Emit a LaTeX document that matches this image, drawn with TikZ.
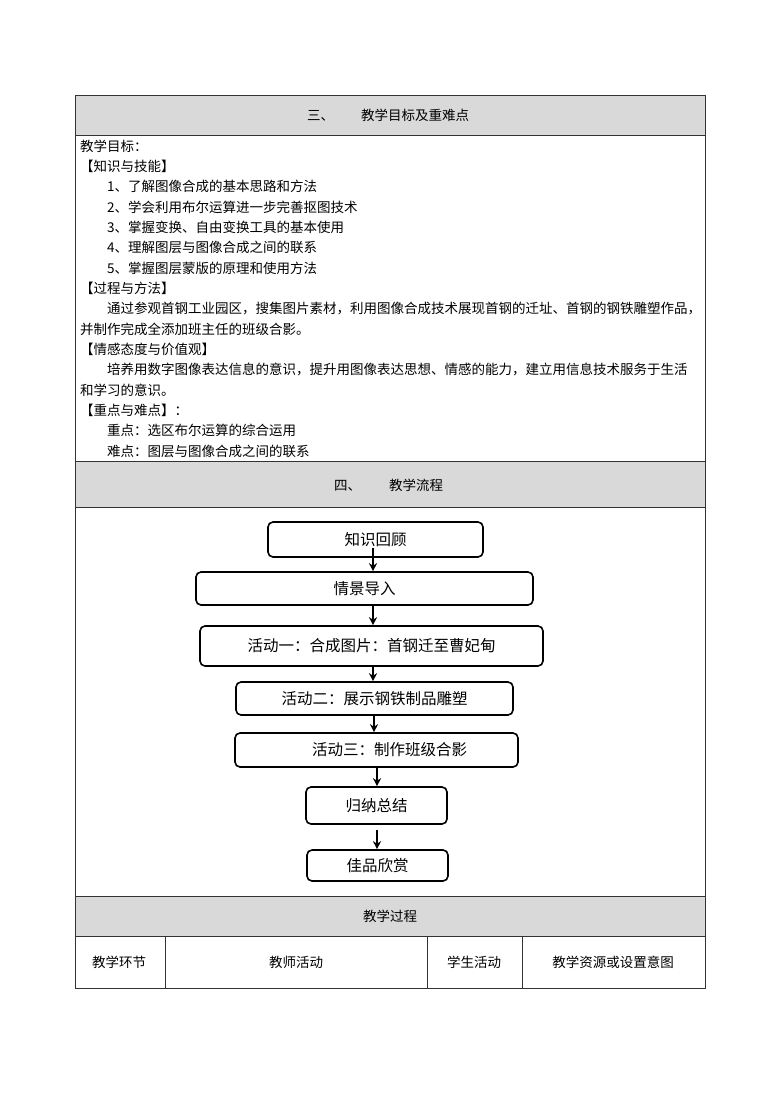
\documentclass[tikz,border=0pt]{standalone}
\usepackage{fontspec}
\setmainfont{Noto Sans CJK SC}
\usetikzlibrary{arrows.meta}
\XeTeXlinebreaklocale "zh"
\XeTeXlinebreakskip=0pt plus 2pt
\begin{document}
\begin{tikzpicture}[x=1pt,y=-1pt,
  tline/.style={draw=black!80, line width=0.8pt},
  hdr/.style={fill=black!15},
  txt/.style={anchor=base west, inner sep=0pt, font=\fontsize{13.5}{13.5}\selectfont},
  ctxt/.style={anchor=base, inner sep=0pt, font=\fontsize{13.5}{13.5}\selectfont},
  flow/.style={draw=black, line width=1.6pt, rounded corners=5pt, inner sep=0pt,
               font=\fontsize{15.5}{15.5}\selectfont},
  arr/.style={-{Stealth[length=8pt,width=8pt]}, line width=1.5pt}]
\useasboundingbox (0,0) rectangle (780,1103);
% ---------- table ----------
\fill[hdr] (75,95) rectangle (705,135);
\fill[hdr] (75,461) rectangle (705,507);
\fill[hdr] (75,896) rectangle (705,936);
\draw[tline] (75,95) rectangle (705,988);
\draw[tline] (75,135) -- (705,135);
\draw[tline] (75,461) -- (705,461);
\draw[tline] (75,507) -- (705,507);
\draw[tline] (75,896) -- (705,896);
\draw[tline] (75,936) -- (705,936);
\draw[tline] (165,936) -- (165,988);
\draw[tline] (427,936) -- (427,988);
\draw[tline] (522,936) -- (522,988);
% ---------- headers ----------
\node[txt] (h1a) at (307,120) {三、};
\node[txt] (h1b) at (361,120) {教学目标及重难点};
\node[txt] (h2a) at (334,490) {四、};
\node[txt] (h2b) at (389,490) {教学流程};
\node[ctxt] (h3) at (390,921) {教学过程};
\node[ctxt] (c1) at (119,967) {教学环节};
\node[ctxt] (c2) at (296,967) {教师活动};
\node[ctxt] (c3) at (474,967) {学生活动};
\node[ctxt] (c4) at (613,967) {教学资源或设置意图};
% ---------- body text ----------
\node[txt] (t1) at (80,151) {教学目标：};
\node[txt] (t2) at (80,171.3) {【知识与技能】};
\node[txt] (t3) at (107,191.7) {1、了解图像合成的基本思路和方法};
\node[txt] (t4) at (107,212) {2、学会利用布尔运算进一步完善抠图技术};
\node[txt] (t5) at (107,232.3) {3、掌握变换、自由变换工具的基本使用};
\node[txt] (t6) at (107,252.7) {4、理解图层与图像合成之间的联系};
\node[txt] (t7) at (107,273) {5、掌握图层蒙版的原理和使用方法};
\node[txt] (t8) at (80,293.3) {【过程与方法】};
\node[txt] (t9) at (107,313.7) {\makebox[590pt][s]{通过参观首钢工业园区，搜集图片素材，利用图像合成技术展现首钢的迁址、首钢的钢铁雕塑作品，}};
\node[txt] (t10) at (80,334) {并制作完成全添加班主任的班级合影。};
\node[txt] (t11) at (80,354.3) {【情感态度与价值观】};
\node[txt] (t12) at (107,374.7) {\makebox[590pt][s]{培养用数字图像表达信息的意识，提升用图像表达思想、情感的能力，建立用信息技术服务于生活}};
\node[txt] (t13) at (80,395) {和学习的意识。};
\node[txt] (t14) at (80,415.3) {【重点与难点】：};
\node[txt] (t15) at (107,435.7) {重点：选区布尔运算的综合运用};
\node[txt] (t16) at (107,456) {难点：图层与图像合成之间的联系};
% ---------- flowchart ----------
\node[flow, minimum width=215pt, minimum height=35pt] (n1) at (375.5,539.5) {知识回顾};
\node[flow, minimum width=337pt, minimum height=33pt] (n2) at (364.5,588.5) {情景导入};
\node[flow, minimum width=343pt, minimum height=40pt] (n3) at (371.5,646) {活动一：合成图片：首钢迁至曹妃甸};
\node[flow, minimum width=277pt, minimum height=33pt] (n4) at (374.5,698.5) {活动二：展示钢铁制品雕塑};
\node[flow, minimum width=283pt, minimum height=34pt] (n5) at (376.5,750) {\hspace*{26pt}活动三：制作班级合影};
\node[flow, minimum width=141pt, minimum height=37pt] (n6) at (376.5,805.5) {归纳总结};
\node[flow, minimum width=141pt, minimum height=31pt] (n7) at (377.5,865.5) {佳品欣赏};
\draw[arr] ([xshift=-2.5pt,yshift=10pt]n1.south) -- ([xshift=8.5pt]n2.north);
\draw[arr] ([xshift=8.5pt]n2.south) -- ([xshift=1.5pt]n3.north);
\draw[arr] ([xshift=1.5pt]n3.south) -- ([xshift=-1.5pt]n4.north);
\draw[arr] ([xshift=-0.5pt]n4.south) -- ([xshift=-2.5pt]n5.north);
\draw[arr] ([xshift=0.5pt]n5.south) -- ([xshift=0.5pt]n6.north);
\draw[arr] ([xshift=0.5pt,yshift=-5pt]n6.south) -- ([xshift=-0.5pt]n7.north);
\end{tikzpicture}
\end{document}
